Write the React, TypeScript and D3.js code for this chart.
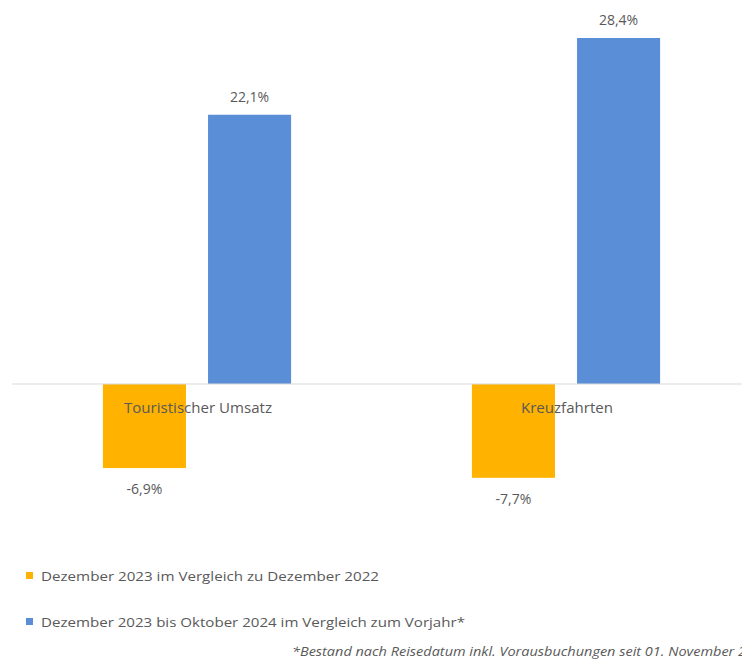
import React, { useEffect } from 'react';
import * as d3 from 'd3';

const categories = ['Touristischer Umsatz', 'Kreuzfahrten'];
const seriesNames = [
  'Dezember 2023 im Vergleich zu Dezember 2022',
  'Dezember 2023 bis Oktober 2024 im Vergleich zum Vorjahr*',
];
const decemberValues = [-6.9, -7.7];
const periodValues = [22.1, 28.4];
const valueLabels = [['-6,9%', '22,1%'], ['-7,7%', '28,4%']];
const footnote = '*Bestand nach Reisedatum inkl. Vorausbuchungen seit 01. November 2023';

const colors = ['#FFB200', '#5A8FD8'];
const textColor = '#595959';
const font = '"Open Sans", "Noto Sans", sans-serif';

const W = 742;
const H = 665;

const App: React.FC = () => {
  useEffect(() => {
    document.body.style.margin = '0';
  }, []);

  const x0 = d3.scaleBand<string>()
    .domain(categories)
    .range([12.5, 750.5])
    .paddingInner(0.49)
    .paddingOuter(0.245);

  const x1 = d3.scaleBand<string>()
    .domain(seriesNames)
    .range([0, x0.bandwidth()])
    .paddingInner(0.21)
    .paddingOuter(0);

  const y = d3.scaleLinear().domain([0, 28.4]).range([384, 38]);

  const rows = categories.map((c, i) => ({
    cat: c,
    values: [decemberValues[i], periodValues[i]],
    labels: valueLabels[i],
  }));

  // widths of category labels as measured on the reference
  const catWidths = [148, 92];

  return (
    <svg width={W} height={H} style={{ display: 'block', fontFamily: font }}>
      <rect width={W} height={H} fill="#fff" />
      {rows.map((r) => (
        <g key={r.cat} transform={`translate(${x0(r.cat)},0)`}>
          {r.values.map((v, j) => {
            const bx = x1(seriesNames[j])!;
            const top = y(Math.max(0, v));
            const bottom = y(Math.min(0, v));
            return (
              <g key={j}>
                <rect x={bx} y={top} width={x1.bandwidth()} height={bottom - top} fill={colors[j]} />
                <text
                  x={bx + x1.bandwidth() / 2}
                  y={v >= 0 ? top - 13 : bottom + 26}
                  textAnchor="middle"
                  fontSize={14}
                  fill={textColor}
                >
                  {r.labels[j]}
                </text>
              </g>
            );
          })}
        </g>
      ))}
      <line x1={12} x2={W} y1={y(0)} y2={y(0)} stroke="#D9D9D9" strokeWidth={1} />
      {categories.map((c, i) => (
        <text
          key={c}
          x={x0(c)! + x0.bandwidth() / 2 + 1}
          y={413}
          textAnchor="middle"
          fontSize={14.5}
          fill={textColor}
          textLength={catWidths[i]}
          lengthAdjust="spacingAndGlyphs"
        >
          {c}
        </text>
      ))}
      {seriesNames.map((s, i) => (
        <g key={s} transform={`translate(0,${576 + i * 46})`}>
          <rect x={26} y={-4} width={7} height={7} fill={colors[i]} />
          <text x={41} y={5} fontSize={13.5} fill={textColor} textLength={i === 0 ? 338 : 424} lengthAdjust="spacingAndGlyphs">
            {s}
          </text>
        </g>
      ))}
      <text x={292} y={656} fontSize={12.5} fontStyle="italic" fill={textColor} textLength={478} lengthAdjust="spacingAndGlyphs">
        {footnote}
      </text>
    </svg>
  );
};

export default App;
